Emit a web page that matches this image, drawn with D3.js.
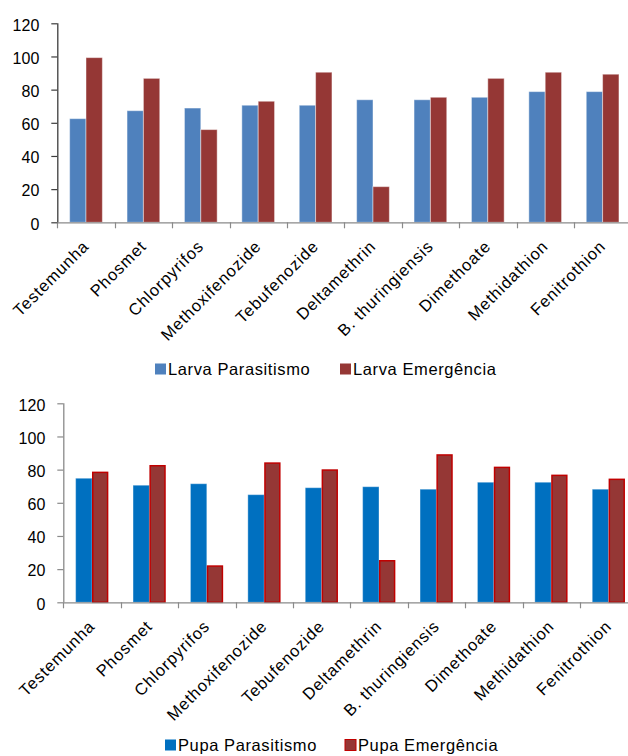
<!DOCTYPE html>
<html>
<head>
<meta charset="utf-8">
<script src="https://cdn.jsdelivr.net/npm/d3@7"></script>
<style>
  html, body { margin: 0; padding: 0; background: #ffffff; }
  svg { display: block; }
  text { font-family: "Liberation Sans", Arial, sans-serif; fill: #000; }
</style>
</head>
<body>
<svg id="chart" width="628" height="756"></svg>
<script>
// Treatments (shared by both panels)
const categories = [
  "Testemunha", "Phosmet", "Chlorpyrifos", "Methoxifenozide", "Tebufenozide",
  "Deltamethrin", "B. thuringiensis", "Dimethoate", "Methidathion", "Fenitrothion"
];

// Larva stage (%)
const larvaParasitismo = [62.5, 67.3, 68.9, 70.6, 70.6, 73.9, 73.9, 75.4, 78.8, 78.8];
const larvaEmergencia  = [99.3, 86.8, 55.9, 73.0, 90.5, 21.5, 75.4, 86.8, 90.5, 89.3];

// Pupa stage (%)
const pupaParasitismo = [74.8, 70.6, 71.5, 64.9, 69.1, 69.7, 68.2, 72.4, 72.4, 68.2];
const pupaEmergencia  = [78.8, 82.8, 22.3, 84.4, 80.2, 25.5, 89.3, 81.8, 77.0, 74.6];

const yTicks = [0, 20, 40, 60, 80, 100, 120];

const FONT = "'Liberation Sans', Arial, sans-serif";
const svg = d3.select("#chart");

function drawPanel(cfg) {
  const g = svg.append("g");
  const step = 57.4;

  const x0 = d3.scaleBand()
    .domain(categories)
    .range([cfg.left, cfg.left + step * categories.length])
    .padding(0);

  const keys = cfg.series.map(s => s.name);
  const bw = x0.bandwidth();
  const x1 = d3.scaleBand()
    .domain(keys)
    .range([bw * 0.215, bw * 0.785])
    .padding(0);

  const y = d3.scaleLinear().domain([0, 120]).range([cfg.bottom, cfg.top]);

  // bars
  const rows = categories.map((c, i) => ({
    cat: c,
    vals: cfg.series.map(s => ({ key: s.name, v: s.values[i], s }))
  }));

  const grp = g.selectAll("g.cat").data(rows).join("g")
    .attr("class", "cat")
    .attr("transform", d => `translate(${x0(d.cat)},0)`);

  grp.selectAll("rect").data(d => d.vals).join("rect")
    .attr("x", d => x1(d.key) + (d.s.strokeW ? d.s.strokeW / 2 : 0))
    .attr("y", d => y(d.v) + (d.s.strokeW ? d.s.strokeW / 2 : 0))
    .attr("width", d => x1.bandwidth() - (d.s.strokeW || 0))
    .attr("height", d => y(0) - y(d.v) - (d.s.strokeW ? d.s.strokeW / 2 : 0))
    .attr("fill", d => d.s.color)
    .attr("stroke", d => d.s.stroke)
    .attr("stroke-width", d => d.s.strokeW || 1);

  // x axis line and category boundary ticks
  g.append("line")
    .attr("x1", cfg.left).attr("x2", 628)
    .attr("y1", y(0) + 0.5).attr("y2", y(0) + 0.5)
    .attr("stroke", "#8a8a8a").attr("stroke-width", 1.2);

  const bounds = categories.map(c => x0(c)).concat([x0.range()[1]]);
  g.selectAll("line.xt").data(bounds).join("line")
    .attr("class", "xt")
    .attr("x1", d => Math.round(d) + 0.5).attr("x2", d => Math.round(d) + 0.5)
    .attr("y1", y(0)).attr("y2", y(0) + 6)
    .attr("stroke", "#8a8a8a").attr("stroke-width", 1.2);

  // y axis
  const yAxis = d3.axisLeft(y).tickValues(yTicks).tickSize(6).tickPadding(12);
  const ya = g.append("g")
    .attr("transform", `translate(${cfg.left},0)`)
    .call(yAxis);
  ya.select(".domain")
    .attr("stroke", cfg.yAxisColor).attr("stroke-width", 1.3)
    .attr("d", `M0.5,${y(120)}V${y(0)}`);
  ya.selectAll(".tick line").attr("stroke", cfg.yAxisColor).attr("stroke-width", 1.2);
  ya.selectAll(".tick text")
    .attr("font-size", 16)
    .attr("font-family", FONT)
    .attr("fill", "#111")
    .attr("dy", "0.42em");

  // rotated category labels
  g.selectAll("text.cat").data(categories).join("text")
    .attr("class", "cat")
    .attr("text-anchor", "end")
    .attr("font-family", FONT)
    .attr("font-size", 16.5)
    .attr("letter-spacing", 0.9)
    .attr("fill", "#111")
    .attr("transform", d => `translate(${x0(d) + bw / 2 + 4},${y(0) + 25}) rotate(-45)`)
    .text(d => d);

  // legend
  const lg = g.append("g");
  cfg.series.forEach((s, i) => {
    const lx = cfg.legendX[i];
    lg.append("rect")
      .attr("x", lx).attr("y", cfg.legendY - 11.5)
      .attr("width", 11).attr("height", 11)
      .attr("fill", s.color)
      .attr("stroke", s.legendStroke || "none")
      .attr("stroke-width", s.legendStroke ? 1 : 0);
    lg.append("text")
      .attr("x", lx + 13).attr("y", cfg.legendY)
      .attr("font-family", FONT)
      .attr("font-size", 16.5)
      .attr("letter-spacing", 0.6)
      .attr("fill", "#111")
      .text(s.name);
  });
}

drawPanel({
  left: 57.3, top: 23.3, bottom: 222.3,
  yAxisColor: "#3c3c3c",
  legendY: 375, legendX: [155, 340],
  series: [
    { name: "Larva Parasitismo", values: larvaParasitismo, color: "#4f81bd", stroke: "rgba(255,255,255,0.45)", strokeW: 0 },
    { name: "Larva Emergência", values: larvaEmergencia, color: "#953735", stroke: "rgba(255,255,255,0.45)", strokeW: 0 }
  ]
});

drawPanel({
  left: 63.3, top: 403.3, bottom: 602.3,
  yAxisColor: "#8a8a8a",
  legendY: 751, legendX: [165, 345],
  series: [
    { name: "Pupa Parasitismo", values: pupaParasitismo, color: "#0070c0", stroke: "rgba(255,255,255,0.35)", strokeW: 0 },
    { name: "Pupa Emergência", values: pupaEmergencia, color: "#953735", stroke: "#c00000", strokeW: 1.5, legendStroke: "#c00000" }
  ]
});
</script>
</body>
</html>
